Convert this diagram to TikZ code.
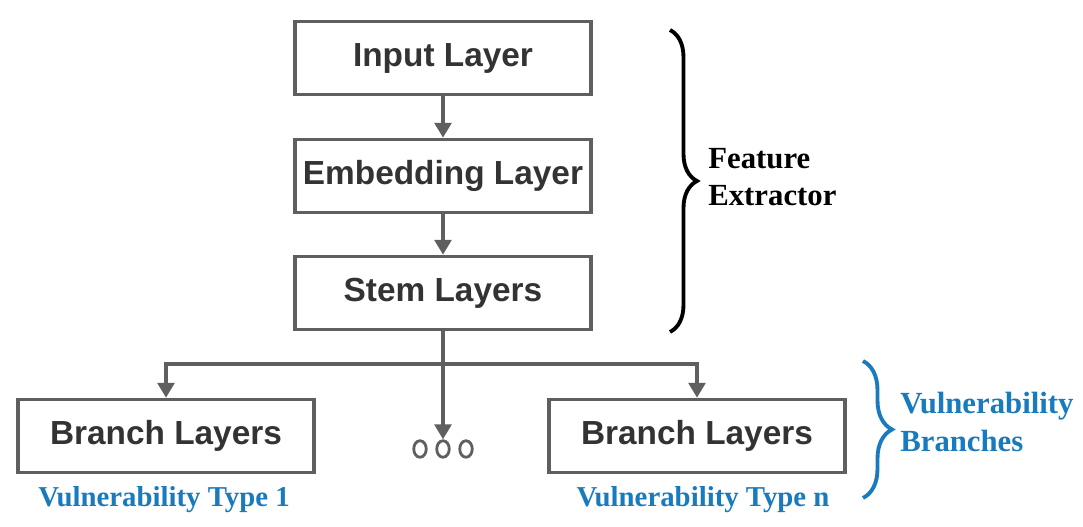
\documentclass[tikz,border=0pt]{standalone}
\usepackage{fontspec}
\setmainfont{Liberation Serif}
\setsansfont{Liberation Sans}
\usetikzlibrary{arrows.meta,shapes.geometric,decorations.pathreplacing}
\definecolor{linegray}{RGB}{95,95,95}
\definecolor{textgray}{RGB}{51,51,51}
\definecolor{vulnblue}{RGB}{25,123,189}
\tikzset{
  layer/.style={draw=linegray,line width=2pt,minimum width=5.92cm,minimum height=1.46cm,
    inner sep=0pt,text=textgray,font=\sffamily\bfseries\fontsize{19}{22}\selectfont},
  conn/.style={draw=linegray,line width=2.1pt,-{Triangle[length=8.5pt,width=9.5pt]}},
  group/.style={line width=2.2pt,decorate},
  typelabel/.style={text=vulnblue,font=\bfseries\fontsize{16.4}{19}\selectfont},
  grouplabel/.style={anchor=west,align=left,inner sep=0pt,font=\bfseries\fontsize{17.5}{21.5}\selectfont}
}
\begin{document}
\begin{tikzpicture}[x=0.02cm,y=0.02cm]
    \useasboundingbox (0,0) rectangle (1083,527);
    \coordinate (split) at (443,163);
    \coordinate (fetop) at (670,497);
    \coordinate (febot) at (670,195);
    \coordinate (vbtop) at (863,166);
    \coordinate (vbbot) at (863,29);
    % stem of the network
    \node[layer] (input) at (443,469) {Input Layer};
    \node[layer] (embed) at (443,351) {Embedding Layer};
    \node[layer] (stem) at (443,234) {Stem Layers};
    % branches
    \node[layer] (branch1) at (166,91) {Branch Layers};
    \node[layer] (branchn) at (697,91) {Branch Layers};
    \foreach \i/\x in {1/420,2/443,3/466}
        \node[ellipse,draw=linegray,line width=1.6pt,minimum width=0.25cm,minimum height=0.33cm,inner sep=0pt] (dot\i) at (\x,78) {};
    \node[typelabel] (type1) at (164,27) {Vulnerability Type 1};
    \node[typelabel] (typen) at (703,27) {Vulnerability Type n};
    % connectors
    \draw[conn] (input) -- (embed);
    \draw[conn] (embed) -- (stem);
    \draw[draw=linegray,line width=2.1pt] (stem.south) -- (split);
    \draw[conn] (split) -| (branch1.north);
    \draw[conn] (split) -| (branchn.north);
    \draw[conn] (split) -- (dot2.north);
    % braces
    \draw[group,decoration={brace,amplitude=0.54cm}] (fetop) -- (febot);
    \node[grouplabel] (fe) at (708,350) {Feature\\Extractor};
    \draw[group,vulnblue,decoration={brace,amplitude=0.58cm}] (vbtop) -- (vbbot);
    \node[grouplabel,text=vulnblue] (vb) at (900,105) {Vulnerability\\Branches};
\end{tikzpicture}
\end{document}
